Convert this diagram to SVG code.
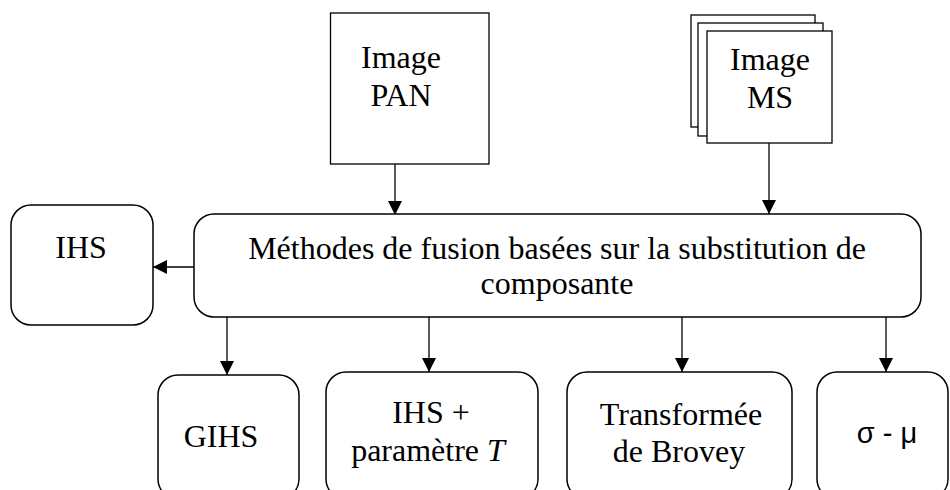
<svg xmlns="http://www.w3.org/2000/svg" width="950" height="490" viewBox="0 0 950 490">
  <defs>
    <style>
      .box { fill: #ffffff; stroke: #000000; stroke-width: 1.5; }
      .sq { fill: #ffffff; stroke: #000000; stroke-width: 1.3; }
      .lbl { font-family: "Liberation Serif", "Times New Roman", serif; font-size: 32px; fill: #000000; text-anchor: middle; }
      .sym { font-family: "Liberation Sans", Arial, sans-serif; font-size: 29px; fill: #000000; text-anchor: middle; }
      .link { fill: none; stroke: #000000; stroke-width: 1.3; marker-end: url(#head); }
    </style>
    <marker id="head" markerUnits="userSpaceOnUse" markerWidth="14" markerHeight="14" refX="14" refY="7" orient="auto">
      <path d="M0,0 L14,7 L0,14 z" fill="#000000"/>
    </marker>
  </defs>
  <rect width="950" height="490" fill="#ffffff"/>

  <!-- connectors -->
  <g id="connectors">
    <line class="link" x1="395" y1="164" x2="395" y2="215"/>
    <line class="link" x1="769" y1="143" x2="769" y2="214"/>
    <line class="link" x1="194" y1="267" x2="153" y2="267"/>
    <line class="link" x1="227" y1="317" x2="227" y2="375"/>
    <line class="link" x1="429" y1="317" x2="429" y2="372"/>
    <line class="link" x1="682" y1="317" x2="682" y2="372"/>
    <line class="link" x1="886" y1="317" x2="886" y2="372"/>
  </g>

  <!-- panchromatic image -->
  <g id="pan">
    <rect class="sq" x="330.5" y="13" width="158.5" height="151"/>
    <text class="lbl" x="401" y="68">Image</text>
    <text class="lbl" x="401" y="106">PAN</text>
  </g>

  <!-- multispectral image: stacked sheets -->
  <g id="ms">
    <rect class="sq" x="691" y="15" width="124" height="112"/>
    <rect class="sq" x="698" y="23" width="125" height="113"/>
    <rect class="sq" x="707" y="31" width="125" height="112"/>
    <text class="lbl" x="770" y="70">Image</text>
    <text class="lbl" x="770" y="108">MS</text>
  </g>

  <!-- central process -->
  <g id="methodes">
    <rect class="box" x="194" y="214" width="727" height="103" rx="20" ry="20"/>
    <text class="lbl" x="557" y="259">Méthodes de fusion basées sur la substitution de</text>
    <text class="lbl" x="557" y="294">composante</text>
  </g>

  <g id="ihs">
    <rect class="box" x="11" y="205" width="142" height="120" rx="20" ry="20"/>
    <text class="lbl" x="81" y="258">IHS</text>
  </g>

  <g id="gihs">
    <rect class="box" x="158" y="375" width="141" height="124" rx="20" ry="20"/>
    <text class="lbl" x="221" y="447">GIHS</text>
  </g>

  <g id="ihs-t">
    <rect class="box" x="326" y="372" width="212" height="127" rx="20" ry="20"/>
    <text class="lbl" x="431" y="423">IHS +</text>
    <text class="lbl" x="428" y="461">paramètre <tspan font-style="italic">T</tspan></text>
  </g>

  <g id="brovey">
    <rect class="box" x="567" y="372" width="225" height="127" rx="20" ry="20"/>
    <text class="lbl" x="681" y="425">Transformée</text>
    <text class="lbl" x="679" y="462">de Brovey</text>
  </g>

  <g id="sigma-mu">
    <rect class="box" x="817" y="372" width="131" height="127" rx="20" ry="20"/>
    <text class="sym" x="887" y="443">σ - μ</text>
  </g>
</svg>
